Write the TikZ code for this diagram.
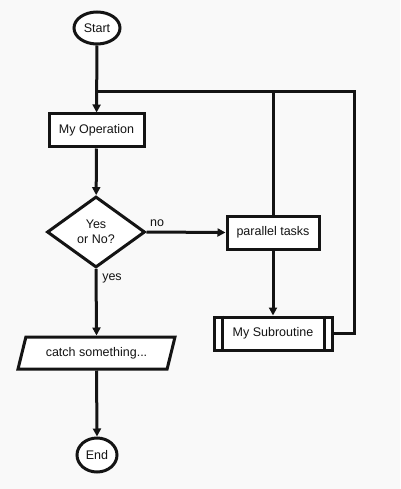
\documentclass[tikz,border=0pt]{standalone}
\usepackage{fontspec}
\setmainfont{Liberation Sans}
\usetikzlibrary{shapes.geometric,arrows.meta}
\definecolor{bgc}{RGB}{249,249,249}
\definecolor{ink}{RGB}{20,20,20}
\begin{document}
\begin{tikzpicture}[x=1pt,y=-1pt,
  every node/.style={font=\fontsize{12.5}{14.5}\selectfont, text=ink},
  base/.style={draw=ink, line width=3pt, fill=white, inner sep=1pt},
  term/.style={base, ellipse},
  proc/.style={base, rectangle, minimum height=33pt},
  decis/.style={base, diamond, minimum width=98pt, minimum height=71pt, align=center},
  io/.style={base, trapezium, trapezium left angle=60, trapezium right angle=120, trapezium stretches body, minimum width=157pt, minimum height=32pt},
  conn/.style={draw=ink, line width=3pt},
  arr/.style={conn, -{Triangle[length=8pt,width=8pt]}},
  lbl/.style={inner sep=0pt}
]
\useasboundingbox[fill=bgc] (0,0) rectangle (400,489);

\node[term, minimum width=46pt, minimum height=32pt] (start) at (97,28) {Start};
\node[proc, minimum width=95pt] (op) at (96.5,130.5) {My Operation};
\node[decis] (dec) at (96,232) {Yes\\or No?};
\node[proc, minimum width=92pt] (par) at (273,232.5) {parallel tasks};
\node[proc, minimum width=118pt] (sub) at (273,333.5) {My Subroutine};
\draw[conn] ([xshift=10pt]sub.north west) -- ([xshift=10pt]sub.south west);
\draw[conn] ([xshift=-9.5pt]sub.north east) -- ([xshift=-9.5pt]sub.south east);
\node[io] (catch) at (96.5,353) {catch something...};
\node[term, minimum width=40pt, minimum height=34pt] (end) at (97,455) {End};

\coordinate (J) at (97,92);
\coordinate (R) at (354,92);

\draw[arr] (start) -- (op);
\draw[conn] (par.north) |- (J);
\draw[conn] (sub.east) -| (R) -- (J);
\draw[arr] (op) -- (dec);
\draw[arr] (dec.east) -- (par.west);
\draw[arr] (dec.south) -- (catch.north);
\draw[arr] (catch.south) -- (end.north);
\draw[arr] (par.south) -- (sub.north);

\node[lbl] (no) at (157,223) {no};
\node[lbl] (yes) at (112,278) {yes};
\end{tikzpicture}
\end{document}
